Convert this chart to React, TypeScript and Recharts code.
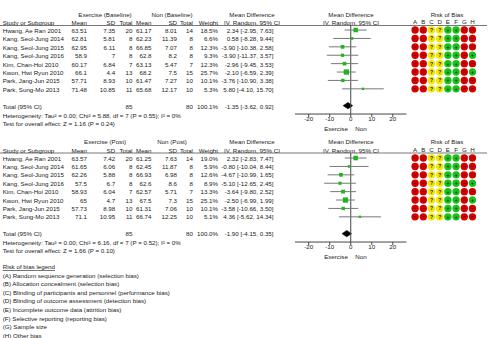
import React from 'react';
import { ComposedChart, ScatterChart, Scatter, ErrorBar, Area, XAxis, YAxis, ReferenceLine } from 'recharts';

const FONT = '"Liberation Sans", Arial, sans-serif';
const TXT = '#222';
const FS = 6.2;

const studies = [
  'Hwang, Ae Ran 2001',
  'Kang, Seol-Jung 2014',
  'Kang, Seol-Jung 2015',
  'Kang, Seol-Jung 2016',
  'Kim, Chan-Hoi 2010',
  'Kwon, Hwi Ryun 2010',
  'Park, Jang-Jun 2015',
  'Park, Sung-Mo 2013',
];

// baseline outcome
const baseExMean = [63.51, 62.81, 62.95, 58.9, 60.17, 66.1, 57.71, 71.48];
const baseExSD = [7.35, 5.81, 6.11, 7, 6.84, 4.4, 8.93, 10.85];
const baseExN = [20, 8, 8, 8, 7, 13, 10, 11];
const baseNonMean = [61.17, 62.23, 66.85, 62.8, 63.13, 68.2, 61.47, 65.68];
const baseNonSD = [8.01, 11.39, 7.07, 8.2, 5.47, 7.5, 7.27, 12.17];
const baseNonN = [14, 8, 8, 8, 7, 15, 10, 10];
const baseWeight = [18.5, 6.6, 12.3, 9.3, 12.3, 25.7, 10.1, 5.3];
const baseMD = [2.34, 0.58, -3.9, -3.9, -2.96, -2.1, -3.76, 5.8];
const baseLo = [-2.95, -8.28, -10.38, -11.37, -9.45, -6.59, -10.9, -4.1];
const baseHi = [7.63, 9.44, 2.58, 3.57, 3.53, 2.39, 3.38, 15.7];
const baseTotal = [-1.35, -3.62, 0.92];
const baseHet = 'Heterogeneity: Tau² = 0.00; Chi² = 5.88, df = 7 (P = 0.55); I² = 0%';
const baseTest = 'Test for overall effect: Z = 1.16 (P = 0.24)';

// post outcome
const postExMean = [63.57, 61.65, 62.26, 57.5, 58.93, 65, 57.73, 71.1];
const postExSD = [7.42, 6.06, 5.88, 6.7, 6.04, 4.7, 8.98, 10.95];
const postExN = [20, 8, 8, 8, 7, 13, 10, 11];
const postNonMean = [61.25, 62.45, 66.93, 62.6, 62.57, 67.5, 61.31, 66.74];
const postNonSD = [7.63, 11.87, 6.98, 8.6, 5.71, 7.3, 7.06, 12.25];
const postNonN = [14, 8, 8, 8, 7, 15, 10, 10];
const postWeight = [19.0, 5.9, 12.6, 8.9, 13.3, 25.1, 10.1, 5.1];
const postMD = [2.32, -0.8, -4.67, -5.1, -3.64, -2.5, -3.58, 4.36];
const postLo = [-2.83, -10.04, -10.99, -12.65, -9.8, -6.99, -10.66, -5.62];
const postHi = [7.47, 8.44, 1.65, 2.45, 2.52, 1.99, 3.5, 14.34];
const postTotal = [-1.9, -4.15, 0.35];
const postHet = 'Heterogeneity: Tau² = 0.00; Chi² = 6.16, df = 7 (P = 0.52); I² = 0%';
const postTest = 'Test for overall effect: Z = 1.66 (P = 0.10)';

// risk of bias, one string per study, columns A..H
const robDomains = ['A', 'B', 'C', 'D', 'E', 'F', 'G', 'H'];
const robRows = ['--??++--', '--??++--', '--??++--', '--??++-+', '--??++--', '--??++-+', '--??++--', '--??++--'];
const axisTicks = [-20, -10, 0, 10, 20];

const legendLines = [
  '(A) Random sequence generation (selection bias)',
  '(B) Allocation concealment (selection bias)',
  '(C) Blinding of participants and personnel (performance bias)',
  '(D) Blinding of outcome assessment (detection bias)',
  '(E) Incomplete outcome data (attrition bias)',
  '(F) Selective reporting (reporting bias)',
  '(G) Sample size',
  '(H) Other bias',
];

const ROW0 = 30.5;
const ROW_H = 8.4;
const POST_TOP = 127.5;

// right edges of the table columns
const COL = { exMean: 87, exSD: 115.2, exN: 132.5, nonMean: 151.5, nonSD: 177, nonN: 193, weight: 218, ci: 273.5 };

const ROB_COLORS: Record<string, string> = { '-': '#d40000', '?': '#f0e800', '+': '#19c219' };

const rowY = (top: number, i: number) => top + ROW0 + ROW_H * i;
const ci = (m: number, l: number, h: number) => `${m.toFixed(2)} [${l.toFixed(2)}, ${h.toFixed(2)}]`;
const sum = (a: number[]) => a.reduce((s, v) => s + v, 0);

const T = ({ x, y, a = 'end', children }: any) => (
  <text x={x} y={y} textAnchor={a} dominantBaseline="central" fontSize={FS} fontFamily={FONT} fill={TXT}>
    {children}
  </text>
);

function PanelText({ top, label, exMean, exSD, exN, nonMean, nonSD, nonN, weight, md, lo, hi, total, het, test }: any) {
  return (
    <g>
      <T x={105} y={top + 14} a="middle">{`Exercise (${label})`}</T>
      <T x={172} y={top + 14} a="middle">{`Non (${label})`}</T>
      <T x={252} y={top + 14} a="middle">Mean Difference</T>
      <T x={351} y={top + 14} a="middle">Mean Difference</T>
      <T x={447} y={top + 14} a="middle">Risk of Bias</T>
      <T x={2.7} y={top + 22.5} a="start">Study or Subgroup</T>
      <T x={COL.exMean} y={top + 22.5}>Mean</T>
      <T x={COL.exSD} y={top + 22.5}>SD</T>
      <T x={COL.exN} y={top + 22.5}>Total</T>
      <T x={COL.nonMean} y={top + 22.5}>Mean</T>
      <T x={COL.nonSD} y={top + 22.5}>SD</T>
      <T x={COL.nonN} y={top + 22.5}>Total</T>
      <T x={COL.weight} y={top + 22.5}>Weight</T>
      <T x={252} y={top + 22.5} a="middle">IV, Random, 95% CI</T>
      <T x={351} y={top + 22.5} a="middle">IV, Random, 95% CI</T>
      <line x1={0} x2={487} y1={top + 25.5} y2={top + 25.5} stroke="#555" strokeWidth={0.8} />
      {studies.map((s, i) => (
        <g key={s}>
          <T x={2.7} y={rowY(top, i)} a="start">{s}</T>
          <T x={COL.exMean} y={rowY(top, i)}>{exMean[i]}</T>
          <T x={COL.exSD} y={rowY(top, i)}>{exSD[i]}</T>
          <T x={COL.exN} y={rowY(top, i)}>{exN[i]}</T>
          <T x={COL.nonMean} y={rowY(top, i)}>{nonMean[i]}</T>
          <T x={COL.nonSD} y={rowY(top, i)}>{nonSD[i]}</T>
          <T x={COL.nonN} y={rowY(top, i)}>{nonN[i]}</T>
          <T x={COL.weight} y={rowY(top, i)}>{`${weight[i].toFixed(1)}%`}</T>
          <T x={COL.ci} y={rowY(top, i)}>{ci(md[i], lo[i], hi[i])}</T>
        </g>
      ))}
      <T x={2.7} y={rowY(top, 9)} a="start">Total (95% CI)</T>
      <T x={COL.exN} y={rowY(top, 9)}>{sum(exN)}</T>
      <T x={COL.nonN} y={rowY(top, 9)}>{sum(nonN)}</T>
      <T x={COL.weight} y={rowY(top, 9)}>{`${sum(weight).toFixed(1)}%`}</T>
      <T x={COL.ci} y={rowY(top, 9)}>{ci(total[0], total[1], total[2])}</T>
      <T x={2.7} y={top + 115} a="start">{het}</T>
      <T x={2.7} y={top + 123} a="start">{test}</T>
      <T x={336} y={top + 128.5} a="middle">Exercise</T>
      <T x={361} y={top + 128.5} a="middle">Non</T>
    </g>
  );
}

function Square(props: any) {
  const { cx, cy, payload } = props;
  const s = Math.sqrt(payload.w) * 1.05;
  return <rect x={cx - s / 2} y={cy - s / 2} width={s} height={s} fill="#21b421" />;
}

function Forest({ top, md, lo, hi, weight, total }: any) {
  const pts = md.map((m: number, i: number) => ({ x: m, y: i, w: weight[i], err: [m - lo[i], hi[i] - m] }));
  const diamond = [
    { x: total[1], band: [9, 9] },
    { x: total[0], band: [9 - 0.38, 9 + 0.38] },
    { x: total[2], band: [9, 9] },
  ];
  return (
    <div style={{ position: 'absolute', left: 295, top: top + ROW0 - 0.6 * ROW_H }}>
      <ComposedChart width={111.5} height={10.6 * ROW_H + 20} data={diamond} margin={{ top: 0, right: 0, bottom: 0, left: 0 }}>
        <XAxis
          type="number"
          dataKey="x"
          domain={[-26.5, 26.5]}
          ticks={axisTicks}
          interval={0}
          allowDataOverflow
          height={20}
          tickSize={3}
          tickMargin={0}
          stroke="#444"
          tick={{ fontSize: FS, fill: TXT, fontFamily: FONT }}
        />
        <YAxis type="number" dataKey="y" domain={[-0.6, 10]} reversed hide allowDataOverflow />
        <ReferenceLine x={0} stroke="#444" />
        <Area type="linear" dataKey="band" stroke="#000" strokeWidth={0.6} fill="#000" fillOpacity={1} dot={false} activeDot={false} isAnimationActive={false} />
        <Scatter data={pts} shape={Square} isAnimationActive={false}>
          <ErrorBar dataKey="err" direction="x" width={0} stroke="#777" strokeWidth={1} isAnimationActive={false} />
        </Scatter>
      </ComposedChart>
    </div>
  );
}

function RobDot(props: any) {
  const { cx, cy, payload } = props;
  const v = payload.v;
  return (
    <g>
      <circle cx={cx} cy={cy} r={3.7} fill={ROB_COLORS[v]} />
      {v === '-' ? (
        <line x1={cx - 1.3} x2={cx + 1.3} y1={cy} y2={cy} stroke="#6a0000" strokeWidth={0.8} />
      ) : (
        <text x={cx} y={cy} textAnchor="middle" dominantBaseline="central" fontSize={5} fontWeight="bold" fontFamily={FONT} fill="#222">
          {v}
        </text>
      )}
    </g>
  );
}

function RobGrid({ top }: { top: number }) {
  const pts = robRows.flatMap((r, i) => r.split('').map((c, j) => ({ x: j, y: i, v: c })));
  return (
    <div style={{ position: 'absolute', left: 410.9, top: top + ROW0 - 0.6 * ROW_H - 8 }}>
      <ScatterChart width={65.6} height={10.6 * ROW_H + 8} margin={{ top: 0, right: 0, bottom: 0, left: 0 }}>
        <XAxis
          type="number"
          dataKey="x"
          orientation="top"
          domain={[-0.5, 7.5]}
          ticks={robDomains.map((_, i) => i)}
          tickFormatter={(v: number) => robDomains[v]}
          interval={0}
          axisLine={false}
          tickLine={false}
          tickSize={0}
          tickMargin={1}
          height={8}
          tick={{ fontSize: FS, fill: TXT, fontFamily: FONT }}
        />
        <YAxis type="number" dataKey="y" domain={[-0.6, 10]} reversed hide allowDataOverflow />
        <Scatter data={pts} shape={RobDot} isAnimationActive={false} />
      </ScatterChart>
    </div>
  );
}

export default function App() {
  return (
    <div style={{ position: 'absolute', left: 0, top: 0, width: 492, height: 338, background: '#fff', overflow: 'hidden' }}>
      <svg width={492} height={338} style={{ position: 'absolute', left: 0, top: 0 }}>
        <PanelText
          top={0}
          label="Baseline"
          exMean={baseExMean} exSD={baseExSD} exN={baseExN}
          nonMean={baseNonMean} nonSD={baseNonSD} nonN={baseNonN}
          weight={baseWeight} md={baseMD} lo={baseLo} hi={baseHi}
          total={baseTotal} het={baseHet} test={baseTest}
        />
        <PanelText
          top={POST_TOP}
          label="Post"
          exMean={postExMean} exSD={postExSD} exN={postExN}
          nonMean={postNonMean} nonSD={postNonSD} nonN={postNonN}
          weight={postWeight} md={postMD} lo={postLo} hi={postHi}
          total={postTotal} het={postHet} test={postTest}
        />
        <text x={2.7} y={266.5} dominantBaseline="central" fontSize={FS} fontFamily={FONT} fill={TXT} textDecoration="underline">
          Risk of bias legend
        </text>
        {legendLines.map((l, i) => (
          <T key={l} x={2.7} y={275.1 + 8.6 * i} a="start">{l}</T>
        ))}
      </svg>
      <Forest top={0} md={baseMD} lo={baseLo} hi={baseHi} weight={baseWeight} total={baseTotal} />
      <Forest top={POST_TOP} md={postMD} lo={postLo} hi={postHi} weight={postWeight} total={postTotal} />
      <RobGrid top={0} />
      <RobGrid top={POST_TOP} />
    </div>
  );
}
